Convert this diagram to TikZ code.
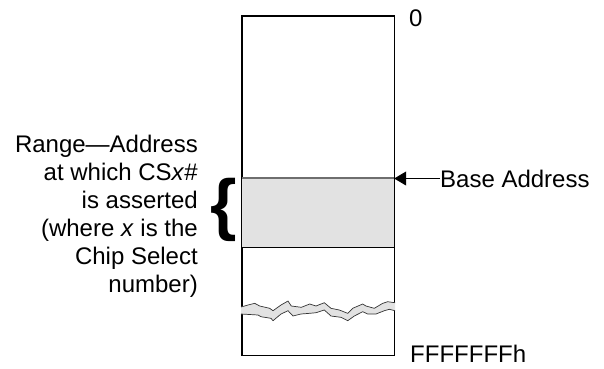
\documentclass[tikz,border=0pt]{standalone}
\usepackage{fontspec}
\setmainfont{Liberation Sans}
\usepackage{tikz}
\usetikzlibrary{arrows.meta, positioning}
\definecolor{bandgray}{RGB}{226, 226, 226}
\definecolor{edgegray}{RGB}{110, 110, 110}

\begin{document}
\begin{tikzpicture}[
        x=1pt, y=-1pt,
        membox/.style={rectangle, draw=black, line width=0.9pt, minimum width=152pt, minimum height=339pt, inner sep=0pt},
        rangebox/.style={rectangle, fill=bandgray, minimum width=152pt, minimum height=69pt, inner sep=0pt},
        addr/.style={font=\fontsize{24}{28}\selectfont, inner sep=0pt},
        bigbrace/.style={font=\fontsize{68}{68}\selectfont\bfseries, inner sep=0pt},
        pointer/.style={-{Triangle[length=12pt, width=14pt]}, line width=0.9pt},
        breakline/.style={line width=0.7pt, draw=black!80}
    ]
        \useasboundingbox (0,0) rectangle (604,368);

        % Nodes
        \node[membox] (mem) at (318,185.5) {};
        \node[rangebox] (range) at (318,212.5) {};
        \draw[line width=0.9pt] (range.south west) -- (range.south east);
        \draw[line width=1.6pt, edgegray] (range.north west) -- (range.north east);
        \draw[line width=0.9pt] (mem.south west) -- (mem.north west) -- (mem.north east) -- (mem.south east) -- cycle;

        \node[addr, anchor=west] (top) at (409,18) {0};
        \node[addr, anchor=west] (bottom) at (410,354) {FFFFFFFh};
        \node[addr, anchor=west] (base) at (440,178.5) {Base Address};
        \node[addr, anchor=east, align=right] (desc) at (198,216)
            {Range---Address\\at which CS\textit{x}\#\\is asserted\\(where \textit{x} is the\\Chip Select\\number)};
        \node[bigbrace, anchor=east] (brace) at (237,210) {\{};

        % Break in the address space
        \fill[bandgray] (241,307) -- (248,305) -- (254.7,303.3) -- (259.7,306) -- (269.7,308.3) -- (273,310.7) -- (281,305) -- (288,301) -- (291.3,306) -- (301.3,307.3) -- (309.7,304) -- (316,306) -- (324.3,302.7) -- (331,308.3) -- (339.3,310) -- (347.7,313.3) -- (352.7,308.3) -- (362.7,304) -- (366,306) -- (374.3,308.3) -- (382.7,303.3) -- (387.7,301.7) -- (395,302.7)
            -- (395,310.7) -- (389.3,309.3) -- (384.3,310.7) -- (376,314) -- (367.7,314) -- (362.7,311.7) -- (354.3,316) -- (347.7,320.7) -- (341,317.3) -- (331,316) -- (324.3,310) -- (316,312.7) -- (309.7,313.3) -- (301,314) -- (293,316) -- (288,310.7) -- (281,314) -- (273,320.7) -- (271,318.3) -- (261,316.7) -- (258,315) -- (241,314) -- cycle;
        \draw[breakline] (241,307) -- (248,305) -- (254.7,303.3) -- (259.7,306) -- (269.7,308.3) -- (273,310.7) -- (281,305) -- (288,301) -- (291.3,306) -- (301.3,307.3) -- (309.7,304) -- (316,306) -- (324.3,302.7) -- (331,308.3) -- (339.3,310) -- (347.7,313.3) -- (352.7,308.3) -- (362.7,304) -- (366,306) -- (374.3,308.3) -- (382.7,303.3) -- (387.7,301.7) -- (395,302.7);
        \draw[breakline] (241,314) -- (258,315) -- (261,316.7) -- (271,318.3) -- (273,320.7) -- (281,314) -- (288,310.7) -- (293,316) -- (301,314) -- (309.7,313.3) -- (316,312.7) -- (324.3,310) -- (331,316) -- (341,317.3) -- (347.7,320.7) -- (354.3,316) -- (362.7,311.7) -- (367.7,314) -- (376,314) -- (384.3,310.7) -- (389.3,309.3) -- (395,310.7);

        % Edges
        \draw[pointer] (base.west) -- (base.west -| range.east);

    \end{tikzpicture}
\end{document}
